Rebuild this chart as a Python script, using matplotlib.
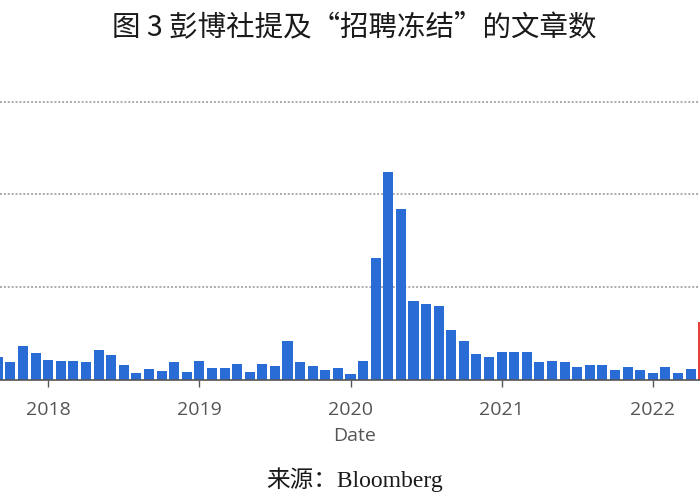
import matplotlib
matplotlib.use("Agg")
import matplotlib.pyplot as plt
import pandas as pd

# ---- data ----
months = pd.period_range("2017-09", "2022-05", freq="M").astype(str).tolist()
articles = [25, 19, 37, 29,
            22, 21, 21, 19, 32, 27, 16, 8, 12, 10, 19, 9,
            21, 12.5, 12.5, 17, 9, 17, 15, 42, 19, 15, 11, 12.5,
            6, 21, 131, 224, 184, 85, 82, 80, 54, 42, 28, 25,
            30, 30, 30, 19, 20, 19, 14, 16, 16, 10.5, 14.5, 10.5,
            7.5, 14.5, 7.5, 12, 62]
highlight_month = "2022-05"
year_ticks = ["2018", "2019", "2020", "2021", "2022"]
grid_values = [100, 200, 300]

title = "图 3 彭博社提及“招聘冻结”的文章数"
source = "来源：Bloomberg"
xlabel = "Date"

# ---- helpers ----
base = pd.Period("2018-01", freq="M")
def idx(m):
    return (pd.Period(m, freq="M") - base).n

x = [idx(m) for m in months]
colors = ["#e8413c" if m == highlight_month else "#2a6cd6" for m in months]

fig = plt.figure(figsize=(7, 5), dpi=100)
ax = fig.add_axes([0, 0.24, 1, 0.60])
ax.bar(x, articles, width=0.8, color=colors, zorder=3)

for g in grid_values:
    ax.axhline(g, color="#aaaaaa", lw=1.4, ls=(0, (1, 1)), zorder=1)

ax.set_xlim(-3.83, 51.75)
ax.set_ylim(0, 300 / 0.928)

for s in ["top", "right", "left"]:
    ax.spines[s].set_visible(False)
ax.spines["bottom"].set_color("#555555")
ax.spines["bottom"].set_linewidth(1.2)
ax.spines["bottom"].set_zorder(4)

ax.set_yticks([])
ax.set_xticks([idx(y + "-01") for y in year_ticks])
ax.set_xticklabels(year_ticks, fontfamily="Open Sans", fontsize=14, color="#555555")
ax.tick_params(axis="x", length=5, width=1, color="#555555", pad=10)

fig.text(0.507, 1 - 436 / 500, xlabel, ha="center", va="center",
         fontfamily="Open Sans", fontsize=14, color="#555555")
fig.text(0.506, 1 - 27 / 500, title, ha="center", va="center",
         fontfamily=["Noto Sans CJK SC", "DejaVu Sans"], fontsize=20.5, color="#1a1a1a")
fig.text(0.507, 1 - 480 / 500, source, ha="center", va="center",
         fontfamily=["Liberation Serif", "Noto Sans CJK SC"], fontsize=17, color="#1a1a1a")

fig.savefig("out.png", dpi=100)
